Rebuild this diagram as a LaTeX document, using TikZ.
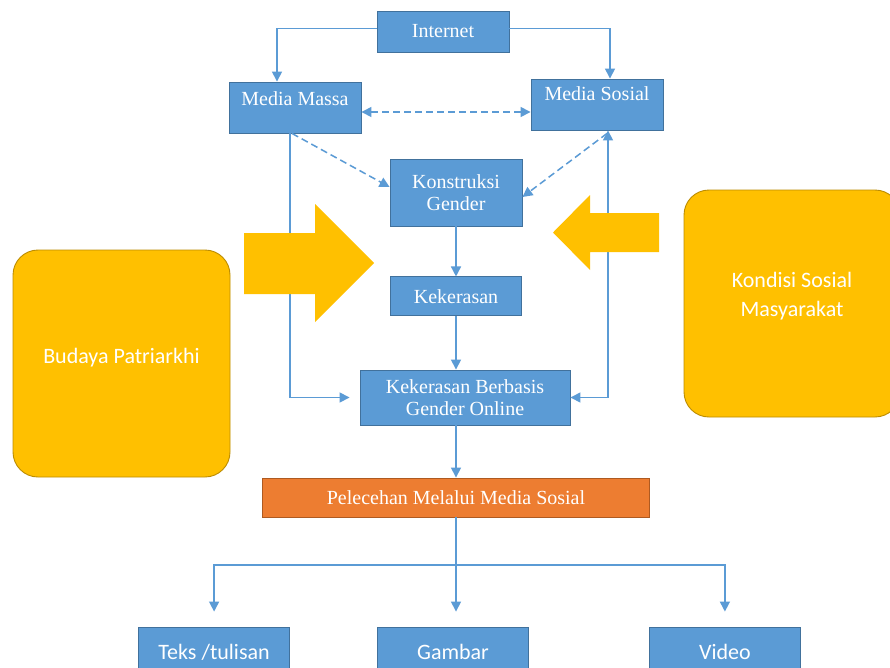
\documentclass[tikz,border=0pt]{standalone}
\usepackage{fontspec}
\setmainfont{Liberation Serif}
\newfontfamily\calibri{Carlito}
\usetikzlibrary{arrows.meta, positioning, calc}
\definecolor{boxblue}{HTML}{5B9BD5}
\definecolor{boxline}{HTML}{41719C}
\definecolor{linkblue}{HTML}{5B9BD5}
\definecolor{boxorange}{HTML}{ED7D31}
\definecolor{orangeline}{HTML}{AE5A21}
\definecolor{softyellow}{HTML}{FFC000}
\definecolor{softline}{HTML}{BC8C00}
\tikzset{
    bluebox/.style = {draw=boxline, fill=boxblue, text=white, inner sep=0pt,
        align=center, line width=0.9pt, font=\fontsize{20}{22}\selectfont},
    topbox/.style = {bluebox, minimum width=132pt, text height=23pt, text depth=28pt},
    orangebox/.style = {bluebox, draw=orangeline, fill=boxorange},
    lowbox/.style = {bluebox, minimum width=151pt, minimum height=50pt,
        font=\calibri\fontsize{22}{26}\selectfont},
    softbox/.style = {draw=softline, fill=softyellow, text=white, rounded corners=25pt,
        align=center, minimum width=217pt, minimum height=227pt, line width=0.9pt,
        font=\calibri\fontsize{22}{29}\selectfont},
    link/.style = {->, draw=linkblue, line width=1.5pt},
    dlink/.style = {link, dash pattern=on 7pt off 4pt},
    bigarrow/.style = {fill=softyellow},
}

\begin{document}
\begin{tikzpicture}[x=1pt, y=-1pt, >={Triangle[length=10pt, width=10pt]}]
    \clip (0,0) rectangle (890,667);
    \fill [white] (0,0) rectangle (890,667);
    % top row
    \node [bluebox, minimum width=132pt, minimum height=41pt] (internet) at (443,31.5) {Internet};
    \node [topbox] (massa) at (295,107.5) {Media Massa};
    \node [topbox, text height=21pt, text depth=30pt] (sosial) at (597,104.5) {Media Sosial};
    % middle column
    \node [bluebox, minimum width=132pt, minimum height=67pt] (konstruksi) at (456,192.5) {Konstruksi\\Gender};
    \node [bluebox, minimum width=131pt, minimum height=39pt, below=50pt of konstruksi] (kekerasan) {Kekerasan};
    \node [bluebox, minimum width=210pt, minimum height=55pt] (kbgo) at (465,397.5) {Kekerasan Berbasis\\Gender Online};
    \node [orangebox, minimum width=387pt, minimum height=39pt] (pelecehan) at (456,497.5) {Pelecehan Melalui Media Sosial};
    % bottom row
    \node [lowbox] (gambar) at (453,652) {Gambar};
    \node [lowbox, left=87pt of gambar] (teks) {Teks /tulisan};
    \node [lowbox, right=120pt of gambar] (video) {Video};
    % side boxes
    \node [softbox, text depth=15pt] (budaya) at (121.5,363.5) {Budaya Patriarkhi};
    \node [softbox, minimum width=216pt, text depth=19pt] (kondisi) at (792,303.5) {Kondisi Sosial\\Masyarakat};

    \draw [link] ([yshift=3pt]internet.west) -| ([xshift=-18pt]massa.north);
    \draw [link] ([yshift=3pt]internet.east) -| ([xshift=13pt]sosial.north);
    \draw [dlink, <->] ([yshift=-4.5pt]massa.east) -- ([yshift=-4.5pt]massa.east -| sosial.west);
    \draw [dlink] ([xshift=-3pt]massa.south) -- ([yshift=5.5pt]konstruksi.west);
    \draw [dlink] ([xshift=10pt, yshift=-3pt]sosial.south) -- ([yshift=-4.5pt]konstruksi.east);
    \draw [link] (konstruksi.south) -- (konstruksi.south |- kekerasan.north);
    \draw [link] (kekerasan.south) -- (kekerasan.south |- kbgo.north);
    \draw [link, shorten >=10pt] ([xshift=-5pt]massa.south) |- (kbgo.west);
    \draw [link, <->] ([xshift=11pt]sosial.south) |- (kbgo.east);
    \draw [link] (pelecehan.north |- kbgo.south) -- (pelecehan.north);
    \coordinate (split) at (456,565);
    \draw [link, -] (pelecehan.south) -- (split);
    \draw [link, shorten >=15pt] (split) -| (teks.north);
    \draw [link, shorten >=15pt] (split) -- (split |- gambar.north);
    \draw [link, shorten >=15pt] (split) -| (video.north);

    % big arrows
    \fill [bigarrow] (244,233) -- (315,233) -- (315,204) -- (374,263) -- (315,322) -- (315,294) -- (244,294) -- cycle;
    \fill [bigarrow] (659,213) -- (590,213) -- (590,195) -- (553,232.5) -- (590,270) -- (590,252) -- (659,252) -- cycle;
\end{tikzpicture}
\end{document}
